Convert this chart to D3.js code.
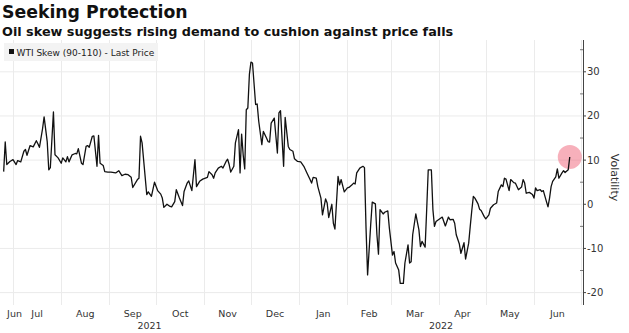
<!DOCTYPE html>
<html>
<head>
<meta charset="utf-8">
<script src="https://cdn.jsdelivr.net/npm/d3@7"></script>
<style>
  html, body { margin: 0; padding: 0; background: #ffffff; }
  svg { display: block; }
</style>
</head>
<body>
<script>
// ---------------- DATA ----------------
const title = "Seeking Protection";
const subtitle = "Oil skew suggests rising demand to cushion against price falls";
const seriesName = "WTI Skew (90-110) - Last Price";
const yAxisTitle = "Volatility";

const dates = [
  "2021-06-25","2021-06-26","2021-06-27","2021-06-29","2021-07-01","2021-07-03","2021-07-04","2021-07-06","2021-07-08","2021-07-09",
  "2021-07-10","2021-07-12","2021-07-14","2021-07-16","2021-07-17","2021-07-18","2021-07-20","2021-07-21","2021-07-23","2021-07-24",
  "2021-07-25","2021-07-27","2021-07-28","2021-07-30","2021-08-01","2021-08-02","2021-08-04","2021-08-05","2021-08-06","2021-08-08",
  "2021-08-10","2021-08-11","2021-08-12","2021-08-14","2021-08-15","2021-08-17","2021-08-18","2021-08-19","2021-08-21","2021-08-22",
  "2021-08-24","2021-08-25","2021-08-26","2021-08-28","2021-08-29","2021-08-31","2021-09-02","2021-09-05","2021-09-07","2021-09-09",
  "2021-09-11","2021-09-13","2021-09-15","2021-09-16","2021-09-19","2021-09-20","2021-09-21","2021-09-22","2021-09-25","2021-09-26",
  "2021-09-28","2021-09-30","2021-10-02","2021-10-04","2021-10-05","2021-10-06","2021-10-08","2021-10-10","2021-10-11","2021-10-13",
  "2021-10-14","2021-10-16","2021-10-18","2021-10-19","2021-10-21","2021-10-22","2021-10-24","2021-10-26","2021-10-27","2021-10-29",
  "2021-10-31","2021-11-03","2021-11-04","2021-11-06","2021-11-07","2021-11-08","2021-11-10","2021-11-12","2021-11-13","2021-11-15",
  "2021-11-16","2021-11-17","2021-11-18","2021-11-20","2021-11-21","2021-11-23","2021-11-24","2021-11-25","2021-11-26","2021-11-27",
  "2021-11-28","2021-11-29","2021-11-30","2021-12-01","2021-12-02","2021-12-04","2021-12-05","2021-12-06","2021-12-08","2021-12-09",
  "2021-12-11","2021-12-12","2021-12-13","2021-12-14","2021-12-16","2021-12-18","2021-12-19","2021-12-20","2021-12-22","2021-12-23",
  "2021-12-25","2021-12-26","2021-12-28","2021-12-29","2021-12-31","2022-01-02","2022-01-04","2022-01-06","2022-01-08","2022-01-09",
  "2022-01-10","2022-01-12","2022-01-13","2022-01-15","2022-01-16","2022-01-18","2022-01-19","2022-01-20","2022-01-22","2022-01-23",
  "2022-01-24","2022-01-26","2022-01-27","2022-01-28","2022-01-30","2022-02-01","2022-02-02","2022-02-04","2022-02-05","2022-02-06",
  "2022-02-07","2022-02-09","2022-02-11","2022-02-12","2022-02-13","2022-02-14","2022-02-16","2022-02-17","2022-02-19","2022-02-20",
  "2022-02-21","2022-02-22","2022-02-24","2022-02-25","2022-02-27","2022-02-28","2022-03-02","2022-03-03","2022-03-04","2022-03-06",
  "2022-03-07","2022-03-09","2022-03-10","2022-03-12","2022-03-13","2022-03-14","2022-03-15","2022-03-17","2022-03-19","2022-03-20",
  "2022-03-21","2022-03-23","2022-03-24","2022-03-25","2022-03-27","2022-03-28","2022-03-29","2022-03-30","2022-04-01","2022-04-03",
  "2022-04-04","2022-04-05","2022-04-07","2022-04-08","2022-04-10","2022-04-11","2022-04-12","2022-04-14","2022-04-15","2022-04-17",
  "2022-04-18","2022-04-20","2022-04-21","2022-04-22","2022-04-23","2022-04-24","2022-04-26","2022-04-27","2022-04-28","2022-04-30",
  "2022-05-01","2022-05-03","2022-05-04","2022-05-06","2022-05-08","2022-05-09","2022-05-11","2022-05-12","2022-05-13","2022-05-14",
  "2022-05-16","2022-05-17","2022-05-19","2022-05-20","2022-05-22","2022-05-24","2022-05-25","2022-05-26","2022-05-27","2022-05-29",
  "2022-05-31","2022-06-01","2022-06-02","2022-06-03","2022-06-05","2022-06-06","2022-06-07","2022-06-09","2022-06-10","2022-06-11",
  "2022-06-12","2022-06-13","2022-06-15","2022-06-16","2022-06-17","2022-06-19","2022-06-20","2022-06-21","2022-06-23","2022-06-24"
];

const values = [
  7.4,14.1,9.0,9.7,10.1,9.0,9.9,9.6,12.0,12.4,
  11.1,13.3,13.0,14.4,13.7,12.9,17.1,19.8,14.2,7.8,
  8.3,20.9,11.2,10.5,9.3,10.5,9.6,10.8,9.6,11.2,
  11.5,11.4,12.6,9.3,9.0,13.1,13.3,12.9,15.4,15.5,
  8.6,15.6,9.3,8.8,7.4,7.3,7.3,7.1,7.6,6.5,
  6.8,6.7,6.1,3.8,5.6,5.9,15.4,13.9,2.2,2.8,
  1.8,5.0,3.1,2.3,1.4,-0.7,0.0,-0.5,-0.6,0.6,
  3.3,1.4,-0.3,2.9,4.8,5.3,3.1,10.1,4.0,5.2,
  5.7,6.1,7.4,6.7,5.9,7.1,8.2,8.6,8.2,9.7,
  10.2,9.0,7.3,8.6,13.9,16.9,7.1,15.9,11.2,8.0,
  21.4,21.8,29.4,32.2,32.0,22.6,22.7,18.8,13.5,16.5,
  15.0,14.2,14.1,18.4,19.5,11.6,20.7,21.2,8.6,19.7,
  13.1,12.4,12.0,10.3,9.7,9.6,8.6,7.1,5.6,4.8,
  6.1,5.9,4.0,1.4,-2.4,1.2,0.3,-3.0,0.0,-4.3,
  -5.6,6.3,4.4,5.6,2.8,3.7,3.8,4.4,4.8,4.6,
  7.1,8.2,8.6,8.3,-5.4,-16.0,-4.6,0.5,0.1,-6.9,
  -11.3,-1.2,-2.2,-1.8,-1.5,-5.4,-11.5,-10.7,-13.3,-14.9,
  -17.9,-17.9,-13.3,-9.2,-13.3,-13.0,-6.9,-2.2,-5.8,-9.6,
  -8.4,-9.7,-1.2,7.8,7.8,-1.2,-5.0,-3.9,-3.4,-2.9,
  -3.9,-4.9,-2.9,-3.5,-3.4,-4.3,-6.9,-9.0,-11.1,-8.7,
  -12.4,-8.8,-5.0,-1.4,1.8,1.4,0.1,-1.1,-1.4,-2.8,
  -3.3,-2.4,-0.9,-0.1,0.3,2.9,4.4,4.0,5.9,5.7,
  3.1,5.6,4.9,4.8,3.3,3.9,5.6,4.8,2.5,2.7,
  2.2,1.4,3.7,3.1,3.3,2.9,3.1,0.6,-0.6,1.4,
  4.0,5.2,6.2,8.0,5.9,7.1,7.6,7.2,7.8,10.7
];

const yTicks = [-20, -10, 0, 10, 20, 30];
const yMinorTicks = [-15, -5, 5, 15, 25, 35];
const years = [2021, 2022];

// ---------------- CHART ----------------
const W = 629, H = 333;
const plotL = 0, plotR = 583, plotT = 40, plotB = 305;
const parse = d3.timeParse("%Y-%m-%d");
const data = dates.map((d, i) => ({ date: parse(d), value: values[i] }));

const x = d3.scaleTime()
  .domain([new Date(2021, 6, 1), new Date(2022, 5, 1)])
  .range([13, 534]);
const y = d3.scaleLinear().domain([-20, 30]).range([292.6, 71.8]);

const svg = d3.select("body").append("svg").attr("width", W).attr("height", H);
const fontAxis = "'DejaVu Sans', Verdana, sans-serif";

// gridlines
const xStart = x.invert(plotL), xEnd = x.invert(plotR);
const monthStarts = d3.timeMonth.range(d3.timeMonth.ceil(xStart), xEnd);
svg.append("g").selectAll("line").data(yTicks).join("line")
  .attr("x1", plotL).attr("x2", plotR)
  .attr("y1", d => y(d)).attr("y2", d => y(d))
  .attr("stroke", "#ebebeb").attr("stroke-width", 1);
svg.append("g").selectAll("line").data(monthStarts).join("line")
  .attr("x1", d => Math.round(x(d)) + 0.5).attr("x2", d => Math.round(x(d)) + 0.5)
  .attr("y1", plotT).attr("y2", plotB)
  .attr("stroke", "#ebebeb").attr("stroke-width", 1);

// legend
const lg = svg.append("g");
lg.append("rect").attr("x", 4).attr("y", 43).attr("width", 154).attr("height", 18).attr("fill", "#f3f3f3");
lg.append("rect").attr("x", 9).attr("y", 49).attr("width", 5).attr("height", 5).attr("fill", "#111");
lg.append("text").attr("x", 16.5).attr("y", 55.5).text(seriesName)
  .attr("font-family", fontAxis).attr("font-size", 9).attr("fill", "#222");

// highlight circle at last point
const last = data[data.length - 1];
svg.append("circle").attr("cx", x(last.date)).attr("cy", y(last.value)).attr("r", 12)
  .attr("fill", "rgba(238,80,104,0.45)");

// line
const line = d3.line().x(d => x(d.date)).y(d => y(d.value));
svg.append("path").datum(data).attr("d", line)
  .attr("fill", "none").attr("stroke", "#111").attr("stroke-width", 1.3)
  .attr("stroke-linejoin", "round");

// right axis
const ax = svg.append("g");
ax.append("line").attr("x1", plotR + 0.5).attr("x2", plotR + 0.5).attr("y1", plotT).attr("y2", plotB)
  .attr("stroke", "#444").attr("stroke-width", 1);
ax.selectAll("line.maj").data(yTicks).join("line").attr("class", "maj")
  .attr("x1", plotR).attr("x2", plotR + 3).attr("y1", d => y(d)).attr("y2", d => y(d))
  .attr("stroke", "#444");
ax.selectAll("line.min").data(yMinorTicks).join("line").attr("class", "min")
  .attr("x1", plotR - 3).attr("x2", plotR).attr("y1", d => y(d)).attr("y2", d => y(d))
  .attr("stroke", "#777");
ax.selectAll("text").data(yTicks).join("text")
  .attr("x", plotR + 4).attr("y", d => y(d)).attr("dy", "0.35em")
  .attr("font-family", fontAxis).attr("font-size", 10).attr("fill", "#333")
  .text(d => d);
svg.append("text")
  .attr("transform", `translate(${611}, ${(plotT + plotB) / 2 + 5}) rotate(90)`)
  .attr("text-anchor", "middle")
  .attr("font-family", fontAxis).attr("font-size", 11).attr("fill", "#333")
  .text(yAxisTitle);

// month labels (only months with enough visible width)
const fmtMonth = d3.timeFormat("%b");
const monthsAll = d3.timeMonth.range(d3.timeMonth.floor(xStart), xEnd)
  .filter(d => Math.min(plotR, x(d3.timeMonth.offset(d, 1))) - Math.max(plotL, x(d)) > 8);
svg.append("g").selectAll("text").data(monthsAll).join("text")
  .attr("x", d => {
    const a = Math.max(plotL, x(d)), b = Math.min(plotR, x(d3.timeMonth.offset(d, 1)));
    return Math.max((a + b) / 2, 14.5);
  })
  .attr("y", 316.5).attr("text-anchor", "middle")
  .attr("font-family", fontAxis).attr("font-size", 9.5).attr("fill", "#333")
  .text(d => fmtMonth(d));

// year labels
svg.append("g").selectAll("text").data(years).join("text")
  .attr("x", yr => {
    const a = Math.max(plotL, x(new Date(yr, 0, 1))), b = Math.min(plotR, x(new Date(yr + 1, 0, 1)));
    return (a + b) / 2;
  })
  .attr("y", 329).attr("text-anchor", "middle")
  .attr("font-family", fontAxis).attr("font-size", 9.5).attr("fill", "#333")
  .text(d => d);

// titles
svg.append("text").attr("x", 2).attr("y", 18).text(title)
  .attr("font-family", "'DejaVu Sans', Verdana, sans-serif").attr("font-weight", "bold")
  .attr("font-size", 17.3).attr("fill", "#111");
svg.append("text").attr("x", 2).attr("y", 35.5).text(subtitle)
  .attr("font-family", "'DejaVu Sans', Verdana, sans-serif").attr("font-weight", "bold")
  .attr("font-size", 12.8).attr("fill", "#111");
</script>
</body>
</html>
